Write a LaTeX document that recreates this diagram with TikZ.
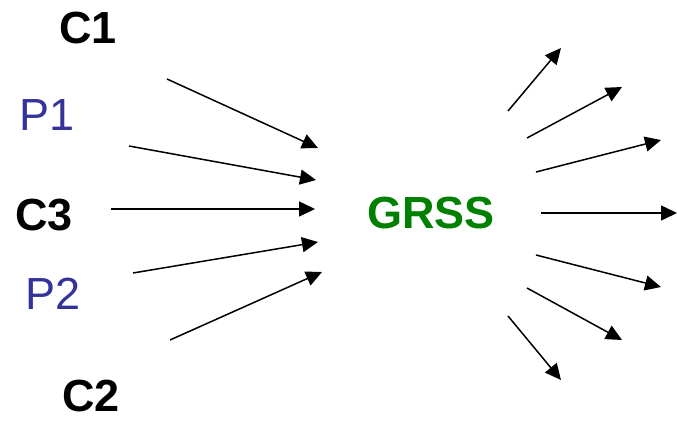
\documentclass[tikz,border=0pt]{standalone}
\usepackage{fontspec}
\setmainfont{Liberation Sans}
\usepackage{xcolor}
\usetikzlibrary{arrows.meta}
\definecolor{pblue}{RGB}{51,51,153}
\definecolor{ggreen}{RGB}{0,128,0}

\begin{document}
\begin{tikzpicture}[
    x=1pt, y=-1pt,
    >={Triangle[length=16pt, width=15pt]},
    cname/.style={inner sep=0, font=\fontsize{45}{45}\selectfont\bfseries},
    pname/.style={inner sep=0, text=pblue, font=\fontsize{45}{45}\selectfont},
    hub/.style={inner sep=0, text=ggreen, font=\fontsize{45}{45}\selectfont\bfseries},
    flow/.style={->, line width=1.5pt}
]
\useasboundingbox (0,0) rectangle (677,421);

% Sources
\node[cname] (C1) at (88,28) {C1};
\node[pname] (P1) at (47,115) {P1};
\node[cname] (C3) at (44,215) {C3};
\node[pname] (P2) at (53,294) {P2};
\node[cname] (C2) at (91,396) {C2};

% Hub
\node[hub] (GRSS) at (431,213) {GRSS};

% Incoming arrow ends
\coordinate (inA) at (167,79);   \coordinate (inAe) at (318,148);
\coordinate (inB) at (129,146);  \coordinate (inBe) at (316,180);
\coordinate (inC) at (111,209);  \coordinate (inCe) at (315,209);
\coordinate (inD) at (133,273);  \coordinate (inDe) at (318,242);
\coordinate (inE) at (170,340);  \coordinate (inEe) at (322,272);

% Outgoing arrow ends
\coordinate (outA) at (508,111); \coordinate (outAe) at (561,48);
\coordinate (outB) at (527,138); \coordinate (outBe) at (622,87);
\coordinate (outC) at (536,172); \coordinate (outCe) at (661,140);
\coordinate (outD) at (541,213); \coordinate (outDe) at (677,213);
\coordinate (outE) at (536,255); \coordinate (outEe) at (661,287);
\coordinate (outF) at (527,288); \coordinate (outFe) at (622,340);
\coordinate (outG) at (508,316); \coordinate (outGe) at (561,380);

% Incoming
\draw[flow] (inA) -- (inAe);
\draw[flow] (inB) -- (inBe);
\draw[flow] (inC) -- (inCe);
\draw[flow] (inD) -- (inDe);
\draw[flow] (inE) -- (inEe);

% Outgoing
\draw[flow] (outA) -- (outAe);
\draw[flow] (outB) -- (outBe);
\draw[flow] (outC) -- (outCe);
\draw[flow] (outD) -- (outDe);
\draw[flow] (outE) -- (outEe);
\draw[flow] (outF) -- (outFe);
\draw[flow] (outG) -- (outGe);

\end{tikzpicture}
\end{document}
